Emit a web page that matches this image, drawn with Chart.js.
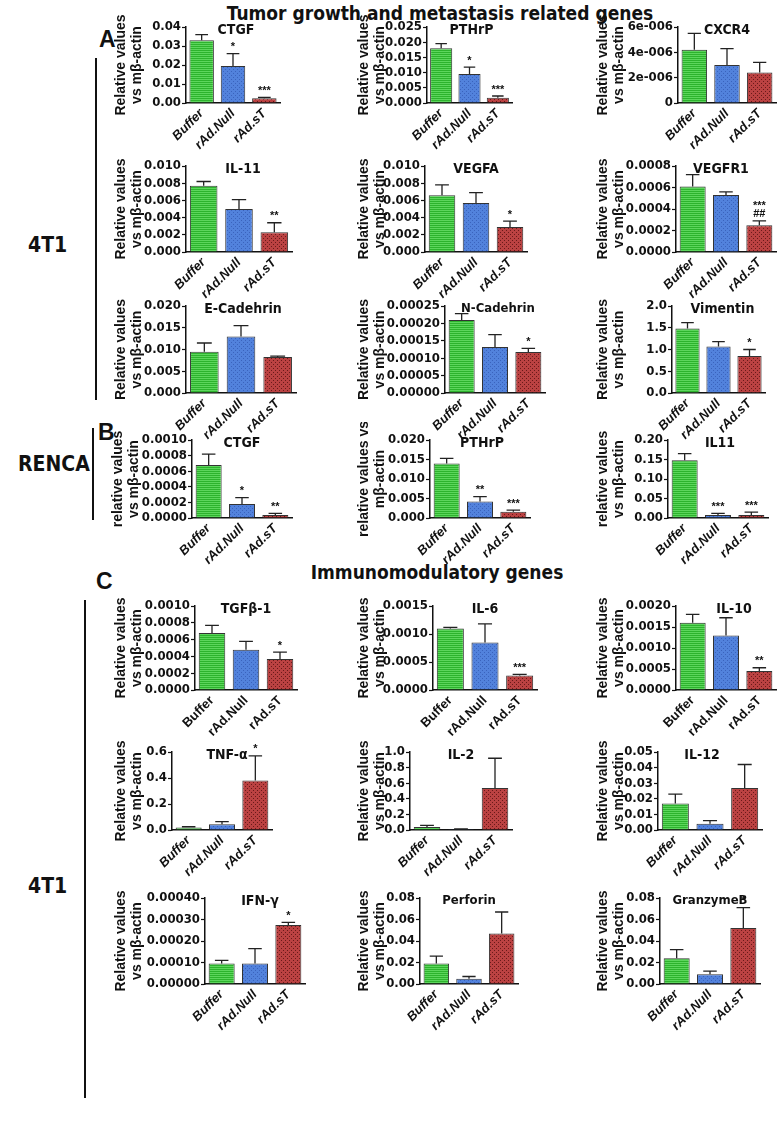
<!DOCTYPE html>
<html>
<head>
<meta charset="utf-8">
<script src="https://cdn.jsdelivr.net/npm/chart.js@4.4.1/dist/chart.umd.min.js"></script>
<style>
  body { margin: 0; background: #fff; }
  #page { position: relative; width: 777px; height: 1126px; overflow: hidden; font-family: "Liberation Sans", Arial, sans-serif; color: #111; }
  .lbl { position: absolute; font-weight: bold; white-space: nowrap; }
  .narrow { font-family: "Liberation Sans Narrow", "DejaVu Sans Condensed", "Liberation Sans", sans-serif; }
  .vline { position: absolute; width: 2px; background: #111; }
  canvas { position: absolute; }
</style>
</head>
<body>
<div id="page">
  <div class="lbl narrow" style="left:0;width:880px;text-align:center;top:2px;font-size:19px;">Tumor growth and metastasis related genes</div>
  <div class="lbl" style="left:99px;top:26px;font-size:23px;">A</div>
  <div class="vline" style="left:95px;top:58px;height:342px;"></div>
  <div class="lbl narrow" style="left:28px;top:233px;font-size:21px;">4T1</div>

  <div class="lbl" style="left:98px;top:419px;font-size:23px;">B</div>
  <div class="vline" style="left:92px;top:428px;height:92px;"></div>
  <div class="lbl narrow" style="left:18px;top:452px;font-size:21px;">RENCA</div>

  <div class="lbl narrow" style="left:0;width:874px;text-align:center;top:561px;font-size:19px;">Immunomodulatory genes</div>
  <div class="lbl" style="left:96px;top:568px;font-size:23px;">C</div>
  <div class="vline" style="left:84px;top:600px;height:498px;"></div>
  <div class="lbl narrow" style="left:28px;top:874px;font-size:21px;">4T1</div>
</div>

<script>
// ==========================
// DATA
// ==========================
const groups = ["Buffer", "rAd.Null", "rAd.sT"];

// A - 4T1 tumor growth / metastasis
const ctgfMean = [0.033, 0.0195, 0.0025];
const ctgfUpper = [0.036, 0.026, 0.003];
const ctgfMarks = ["", "*", "***"];

const pthrpMean = [0.018, 0.0095, 0.0017];
const pthrpUpper = [0.0195, 0.0118, 0.0023];
const pthrpMarks = ["", "*", "***"];

const cxcr4Mean = [4.2e-6, 3.0e-6, 2.4e-6];
const cxcr4Upper = [5.5e-6, 4.3e-6, 3.2e-6];
const cxcr4Marks = ["", "", ""];

const il11Mean = [0.0077, 0.005, 0.0023];
const il11Upper = [0.0082, 0.0061, 0.0034];
const il11Marks = ["", "", "**"];

const vegfaMean = [0.0066, 0.0057, 0.0029];
const vegfaUpper = [0.0078, 0.0069, 0.0036];
const vegfaMarks = ["", "", "*"];

const vegfr1Mean = [0.00061, 0.00053, 0.00025];
const vegfr1Upper = [0.00072, 0.00056, 0.00029];
const vegfr1Marks = ["", "", "***\n##"];

const ecadMean = [0.0095, 0.013, 0.0083];
const ecadUpper = [0.0115, 0.0155, 0.0085];
const ecadMarks = ["", "", ""];

const ncadMean = [0.00021, 0.000132, 0.000118];
const ncadUpper = [0.000228, 0.000168, 0.000128];
const ncadMarks = ["", "", "*"];

const vimMean = [1.48, 1.07, 0.85];
const vimUpper = [1.62, 1.18, 1.0];
const vimMarks = ["", "", "*"];

// B - RENCA
const rCtgfMean = [0.00068, 0.00018, 0.00004];
const rCtgfUpper = [0.00082, 0.00026, 0.00006];
const rCtgfMarks = ["", "*", "**"];

const rPthrpMean = [0.014, 0.0042, 0.0016];
const rPthrpUpper = [0.0153, 0.0055, 0.002];
const rPthrpMarks = ["", "**", "***"];

const rIl11Mean = [0.148, 0.008, 0.008];
const rIl11Upper = [0.165, 0.012, 0.015];
const rIl11Marks = ["", "***", "***"];

// C - 4T1 immunomodulatory
const tgfMean = [0.00068, 0.00048, 0.00037];
const tgfUpper = [0.00077, 0.00058, 0.00045];
const tgfMarks = ["", "", "*"];

const il6Mean = [0.0011, 0.00085, 0.00026];
const il6Upper = [0.00112, 0.00118, 0.00028];
const il6Marks = ["", "", "***"];

const il10Mean = [0.0016, 0.0013, 0.00045];
const il10Upper = [0.0018, 0.00172, 0.00053];
const il10Marks = ["", "", "**"];

const tnfMean = [0.02, 0.045, 0.38];
const tnfUpper = [0.025, 0.065, 0.57];
const tnfMarks = ["", "", "*"];

const il2Mean = [0.04, 0.01, 0.54];
const il2Upper = [0.06, 0.015, 0.92];
const il2Marks = ["", "", ""];

const il12Mean = [0.017, 0.004, 0.027];
const il12Upper = [0.023, 0.006, 0.042];
const il12Marks = ["", "", ""];

const ifnMean = [0.000095, 0.000095, 0.000275];
const ifnUpper = [0.00011, 0.000165, 0.000287];
const ifnMarks = ["", "", "*"];

const perfMean = [0.019, 0.005, 0.047];
const perfUpper = [0.026, 0.007, 0.067];
const perfMarks = ["", "", ""];

const gzbMean = [0.024, 0.009, 0.052];
const gzbUpper = [0.032, 0.012, 0.071];
const gzbMarks = ["", "", "*"];

// ==========================
// FONTS / FILLS
// ==========================
const NARROW = '"Liberation Sans Narrow", "DejaVu Sans Condensed", "Liberation Sans", sans-serif';
const WIDE = '"Liberation Sans", Arial, sans-serif';

function makePattern(base, dot, kind) {
  const c = document.createElement("canvas");
  c.width = 4; c.height = 4;
  const x = c.getContext("2d");
  x.fillStyle = base;
  x.fillRect(0, 0, 4, 4);
  x.fillStyle = dot;
  if (kind === "stripe") {
    x.fillRect(0, 1, 4, 1);
    x.fillRect(0, 3, 4, 1);
  } else {
    x.fillRect(0, 0, 1, 1);
    x.fillRect(2, 2, 1, 1);
  }
  return x.createPattern(c, "repeat");
}
const fills = [
  makePattern("#5cd65c", "#2db32d", "stripe"),
  makePattern("#5282dc", "#3a63bd", "dot"),
  makePattern("#bb4242", "#6a1919", "dot")
];

// ==========================
// PLUGINS
// ==========================
const errorBars = {
  id: "errorBars",
  afterDatasetsDraw(chart, args, opts) {
    const meta = chart.getDatasetMeta(0);
    const y = chart.scales.y;
    const ctx = chart.ctx;
    ctx.save();
    ctx.strokeStyle = "#222";
    ctx.lineWidth = 1.3;
    ctx.fillStyle = "#111";
    ctx.font = "bold 11px " + WIDE;
    ctx.textAlign = "center";
    ctx.textBaseline = "bottom";
    meta.data.forEach((bar, i) => {
      const top = y.getPixelForValue(opts.upper[i]);
      const half = bar.width * 0.26;
      ctx.beginPath();
      ctx.moveTo(bar.x, bar.y);
      ctx.lineTo(bar.x, top);
      ctx.moveTo(bar.x - half, top);
      ctx.lineTo(bar.x + half, top);
      ctx.stroke();
      const mark = opts.marks[i];
      if (mark) {
        const lines = mark.split("\n").reverse();
        lines.forEach((t, k) => ctx.fillText(t, bar.x, top - 1 - k * 8));
      }
    });
    ctx.restore();
  }
};

const panelTitle = {
  id: "panelTitle",
  afterDraw(chart, args, opts) {
    const a = chart.chartArea;
    const ctx = chart.ctx;
    ctx.save();
    ctx.fillStyle = "#111";
    ctx.font = "bold " + (opts.size || 14) + "px " + NARROW;
    ctx.textAlign = "center";
    ctx.textBaseline = "middle";
    ctx.fillText(opts.text, (a.left + a.right) / 2 + (opts.dx || 0), a.top + 3);
    ctx.restore();
  }
};

// ==========================
// PANELS
// ==========================
const RV = ["Relative values", "vs m\u03b2-actin"];
const COL = [113, 356, 595];

const rows = [
  { top: 27, bottom: 103, italic: true },
  { top: 166, bottom: 252, italic: true },
  { top: 306, bottom: 393, italic: true },
  { top: 440, bottom: 518, italic: true },
  { top: 606, bottom: 690, italic: false },
  { top: 752, bottom: 830, italic: true },
  { top: 898, bottom: 984, italic: true }
];

const fix = d => v => v.toFixed(d);
const sci = v => v === 0 ? "0" : (Math.round(v / 1e-6)) + "e-006";

const panels = [
  { row: 0, col: 0, axis: 186, right: 280, title: "CTGF", dx: 3, mean: ctgfMean, upper: ctgfUpper, marks: ctgfMarks, max: 0.04, step: 0.01, fmt: fix(2) },
  { row: 0, col: 1, axis: 427, right: 512, title: "PTHrP", dx: 2, mean: pthrpMean, upper: pthrpUpper, marks: pthrpMarks, max: 0.025, step: 0.005, fmt: fix(3) },
  { row: 0, col: 2, axis: 678, right: 776, title: "CXCR4", dx: 0, mean: cxcr4Mean, upper: cxcr4Upper, marks: cxcr4Marks, max: 6e-6, step: 2e-6, fmt: sci },

  { row: 1, col: 0, axis: 186, right: 292, title: "IL-11", dx: 4, mean: il11Mean, upper: il11Upper, marks: il11Marks, max: 0.010, step: 0.002, fmt: fix(3) },
  { row: 1, col: 1, axis: 425, right: 527, title: "VEGFA", dx: 0, mean: vegfaMean, upper: vegfaUpper, marks: vegfaMarks, max: 0.010, step: 0.002, fmt: fix(3) },
  { row: 1, col: 2, axis: 676, right: 776, title: "VEGFR1", dx: -5, mean: vegfr1Mean, upper: vegfr1Upper, marks: vegfr1Marks, max: 0.0008, step: 0.0002, fmt: fix(4) },

  { row: 2, col: 0, axis: 186, right: 296, title: "E-Cadehrin", dx: 2, mean: ecadMean, upper: ecadUpper, marks: ecadMarks, max: 0.020, step: 0.005, fmt: fix(3) },
  { row: 2, col: 1, axis: 445, right: 545, title: "N-Cadehrin", dx: 3, size: 13, mean: ncadMean, upper: ncadUpper, marks: ncadMarks, max: 0.00025, step: 0.00005, fmt: fix(5) },
  { row: 2, col: 2, axis: 672, right: 765, title: "Vimentin", dx: 4, mean: vimMean, upper: vimUpper, marks: vimMarks, max: 2.0, step: 0.5, fmt: fix(1) },

  { row: 3, col: 0, axis: 192, right: 292, title: "CTGF", dx: 0, ytitle: ["relative values", "vs m\u03b2-actin"], x0: 110, mean: rCtgfMean, upper: rCtgfUpper, marks: rCtgfMarks, max: 0.0010, step: 0.0002, fmt: fix(4) },
  { row: 3, col: 1, axis: 430, right: 530, title: "PTHrP", dx: 2, ytitle: ["relative values vs", "m\u03b2-actin"], mean: rPthrpMean, upper: rPthrpUpper, marks: rPthrpMarks, max: 0.020, step: 0.005, fmt: fix(3) },
  { row: 3, col: 2, axis: 668, right: 768, title: "IL11", dx: 2, ytitle: ["relative values", "vs m\u03b2-actin"], mean: rIl11Mean, upper: rIl11Upper, marks: rIl11Marks, max: 0.20, step: 0.05, fmt: fix(2) },

  { row: 4, col: 0, axis: 195, right: 297, title: "TGF\u03b2-1", dx: 0, mean: tgfMean, upper: tgfUpper, marks: tgfMarks, max: 0.0010, step: 0.0002, fmt: fix(4) },
  { row: 4, col: 1, axis: 433, right: 537, title: "IL-6", dx: 0, mean: il6Mean, upper: il6Upper, marks: il6Marks, max: 0.0015, step: 0.0005, fmt: fix(4) },
  { row: 4, col: 2, axis: 676, right: 776, title: "IL-10", dx: 8, mean: il10Mean, upper: il10Upper, marks: il10Marks, max: 0.0020, step: 0.0005, fmt: fix(4) },

  { row: 5, col: 0, axis: 172, right: 272, title: "TNF-\u03b1", dx: 5, mean: tnfMean, upper: tnfUpper, marks: tnfMarks, max: 0.6, step: 0.2, fmt: fix(1) },
  { row: 5, col: 1, axis: 410, right: 512, title: "IL-2", dx: 0, mean: il2Mean, upper: il2Upper, marks: il2Marks, max: 1.0, step: 0.2, fmt: fix(1) },
  { row: 5, col: 2, axis: 658, right: 762, title: "IL-12", dx: -8, mean: il12Mean, upper: il12Upper, marks: il12Marks, max: 0.05, step: 0.01, fmt: fix(2) },

  { row: 6, col: 0, axis: 205, right: 305, title: "IFN-\u03b3", dx: 5, mean: ifnMean, upper: ifnUpper, marks: ifnMarks, max: 0.0004, step: 0.0001, fmt: fix(5) },
  { row: 6, col: 1, axis: 420, right: 518, title: "Perforin", dx: 0, size: 13, mean: perfMean, upper: perfUpper, marks: perfMarks, max: 0.08, step: 0.02, fmt: fix(2) },
  { row: 6, col: 2, axis: 660, right: 760, title: "GranzymeB", dx: 0, size: 13, mean: gzbMean, upper: gzbUpper, marks: gzbMarks, max: 0.08, step: 0.02, fmt: fix(2) }
];

const page = document.getElementById("page");

function addPanel(p) {
  const row = rows[p.row];
  const padTop = 18;
  const xH = 58;
  const left = p.x0 || COL[p.col];
  const w = p.right - left + 4;
  const h = padTop + (row.bottom - row.top) + xH;

  const cv = document.createElement("canvas");
  cv.width = w;
  cv.height = h;
  cv.style.left = left + "px";
  cv.style.top = (row.top - padTop) + "px";
  cv.style.width = w + "px";
  cv.style.height = h + "px";
  page.appendChild(cv);

  new Chart(cv, {
    type: "bar",
    data: {
      labels: groups,
      datasets: [{
        data: p.mean,
        backgroundColor: fills,
        borderColor: "#333",
        borderWidth: 1,
        barPercentage: 0.78,
        categoryPercentage: 1
      }]
    },
    options: {
      responsive: false,
      animation: false,
      devicePixelRatio: 1,
      layout: { padding: { top: padTop, right: 4, left: 0, bottom: 0 } },
      plugins: {
        legend: { display: false },
        tooltip: { enabled: false },
        errorBars: { upper: p.upper, marks: p.marks },
        panelTitle: { text: p.title, dx: p.dx, size: p.size }
      },
      scales: {
        x: {
          grid: { display: false, drawTicks: false },
          border: { color: "#111", width: 1.5 },
          ticks: {
            autoSkip: false,
            minRotation: 45,
            maxRotation: 45,
            padding: 3,
            color: "#111",
            font: { family: WIDE, size: 13, weight: "bold", style: row.italic ? "italic" : "normal" }
          },
          afterFit: s => { s.height = xH; }
        },
        y: {
          min: 0,
          max: p.max,
          grid: { drawOnChartArea: false, tickLength: 4, color: "#111", tickWidth: 1.2 },
          border: { color: "#111", width: 1.5 },
          ticks: {
            stepSize: p.step,
            autoSkip: false,
            padding: 1,
            color: "#111",
            callback: v => p.fmt(v),
            font: { family: NARROW, size: 13, weight: "bold" }
          },
          title: {
            display: true,
            text: p.ytitle || RV,
            color: "#111",
            padding: 0,
            font: { family: WIDE, size: 14, weight: "bold", lineHeight: 1.15 }
          },
          afterFit: s => { s.width = p.axis - left; }
        }
      }
    },
    plugins: [errorBars, panelTitle]
  });
}

panels.forEach(addPanel);
</script>
</body>
</html>
